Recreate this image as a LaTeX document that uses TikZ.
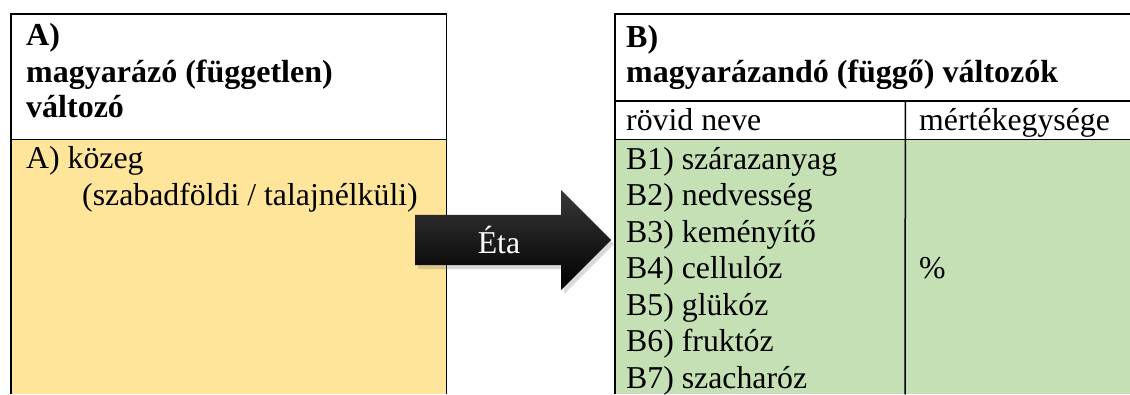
\documentclass[tikz,border=0pt]{standalone}
\usepackage{fontspec}
\setmainfont{Liberation Serif}
\usetikzlibrary{shapes.arrows,shadows}
\definecolor{ayellow}{HTML}{FFE599}
\definecolor{bgreen}{HTML}{C5E0B4}

\begin{document}
\begin{tikzpicture}[x=1pt,y=-1pt,
	cell/.style={rectangle,draw=none,inner sep=0pt,anchor=north west},
	rule/.style={draw=black,line width=1.5pt},
	headtxt/.style={anchor=base west,inner sep=0pt,font=\fontsize{32}{38}\selectfont\bfseries},
	bodytxt/.style={anchor=base west,inner sep=0pt,font=\fontsize{31.8}{38}\selectfont},
	blockarrow/.style={single arrow,anchor=tail,inner sep=0pt,inner ysep=25pt,
		minimum height=196pt,single arrow head extend=25pt,single arrow head indent=0pt,
		top color=black!78,bottom color=black,draw=none,
		drop shadow={shadow xshift=3pt,shadow yshift=-4pt,opacity=0.3}}]
	\useasboundingbox (0,0) rectangle (1130,394);

	\node[cell,minimum width=435pt,minimum height=125pt] (ahead) at (11,14) {};
	\node[cell,fill=ayellow,minimum width=435pt,minimum height=255pt] (abody) at (11,139) {};
	\node[cell,minimum width=515pt,minimum height=87pt] (bhead) at (615,14) {};
	\node[cell,minimum width=290pt,minimum height=38pt] (bname) at (615,101) {};
	\node[cell,minimum width=225pt,minimum height=38pt] (bunit) at (905,101) {};
	\node[cell,fill=bgreen,minimum width=290pt,minimum height=255pt] (blist) at (615,139) {};
	\node[cell,fill=bgreen,minimum width=225pt,minimum height=255pt] (bval) at (905,139) {};

	\draw[rule] (abody.south west) -- (ahead.north west) -- (ahead.north east) -- (abody.south east);
	\draw[rule] (ahead.south west) -- (ahead.south east);
	\draw[rule] (blist.south west) -- (bhead.north west) -- (bhead.north east);
	\draw[rule] (bname.north west) -- (bunit.north east);
	\draw[rule] (bname.south west) -- (bunit.south east);
	\draw[rule] (bname.north east) -- (bval.south west);

	\node[headtxt] (ahdr1) at (26,45)  {A)};
	\node[headtxt] (ahdr2) at (26,82)  {magyarázó (független)};
	\node[headtxt] (ahdr3) at (26,117) {változó};
	\node[bodytxt] (amed) at (26,168) {A) közeg};
	\node[bodytxt] (amode) at (82,205) {(szabadföldi / talajnélküli)};

	\node[headtxt] (bhdr1) at (626,47) {B)};
	\node[headtxt] (bhdr2) at (626,82) {magyarázandó (függő) változók};
	\node[bodytxt] (bnamelbl) at (626,130) {rövid neve};
	\node[bodytxt] (bunitlbl) at (919,130) {mértékegysége};
	\node[bodytxt] (b1) at (626,169)   {B1) szárazanyag};
	\node[bodytxt] (b2) at (626,205.5) {B2) nedvesség};
	\node[bodytxt] (b3) at (626,242)   {B3) keményítő};
	\node[bodytxt] (b4) at (626,278.5) {B4) cellulóz};
	\node[bodytxt] (b5) at (626,315)   {B5) glükóz};
	\node[bodytxt] (b6) at (626,351.5) {B6) fruktóz};
	\node[bodytxt] (b7) at (626,388)   {B7) szacharóz};
	\node[bodytxt] (bpct) at (919,278.5) {\%};

	\node[blockarrow] (eta) at (415,240) {};
	\node[bodytxt,anchor=base,text=white] (etalbl) at (499,253) {Éta};
\end{tikzpicture}
\end{document}
